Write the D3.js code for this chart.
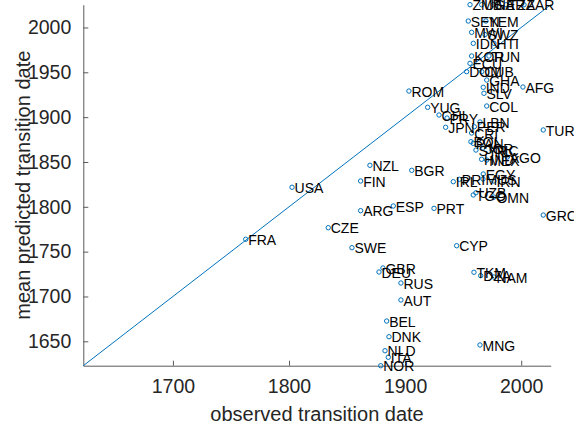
<!DOCTYPE html>
<html>
<head>
<meta charset="utf-8">
<script src="https://cdn.jsdelivr.net/npm/d3@7"></script>
<style>
  html, body { margin: 0; padding: 0; background: #fff; }
  svg { display: block; font-family: "Liberation Sans", Arial, Helvetica, sans-serif; }
</style>
</head>
<body>
<svg id="chart" width="574" height="428"></svg>
<script>
// Country codes, observed transition year and mean predicted transition year
const codes = [
  "FRA","USA","NZL","FIN","BGR","ARG","ESP","CZE","SWE","PRT","GRC","CYP",
  "TKM","DZA","NAM","MNG","BEL","DNK","NLD","ITA","NOR","AUT","RUS","GBR","DEU",
  "ROM","YUG","CHL","PRY","JPN","TUR","COL","SLV","AFG","IND",
  "PER","LBN","CRI","BOL","PAN","SYR","JOR","NIC","HND","MEX","AGO","EGY",
  "IRL","PRI","MUS","IRN","UZB","TGO","OMN",
  "ZMB","UGA","NER","TZA","ZAR","SEN","YEM","MWI","SWZ","IDN","HTI",
  "KOR","TUN","ECU","DOM","CUB","GHA"
];
const observed = [
  1762.7,1802.6,1869.7,1861.7,1905.7,1861.7,1889.8,1833.8,1854.2,1924.9,2019.0,1944.4,
  1959.3,1965.1,1976.5,1964.5,1884.1,1886.1,1882.7,1885.5,1879.0,1896.4,1896.4,1880.9,1877.5,
  1903.3,1919.4,1929.2,1936.1,1934.9,2019.0,1970.3,1967.9,2001.5,1967.3,
  1959.6,1964.5,1957.3,1956.7,1958.7,1961.0,1967.0,1974.8,1965.9,1970.3,1988.0,1967.3,
  1941.5,1946.7,1967.1,1976.5,1961.0,1958.7,1976.5,
  1955.9,1966.0,1976.0,1987.0,2002.4,1954.4,1969.6,1957.3,1968.8,1958.7,1976.5,
  1957.3,1972.2,1955.9,1953.0,1966.0,1970.3
];
const predicted = [
  1763.8,1821.8,1846.3,1828.8,1840.7,1795.7,1800.9,1776.7,1754.4,1798.3,1790.8,1756.6,
  1727.0,1723.2,1721.7,1645.9,1672.6,1655.1,1639.5,1632.2,1622.8,1696.1,1715.0,1731.8,1727.3,
  1929.1,1911.0,1902.4,1899.0,1888.7,1885.7,1912.4,1926.6,1933.6,1933.3,
  1889.3,1894.6,1882.3,1872.6,1870.8,1863.3,1865.6,1863.3,1853.0,1852.2,1855.5,1836.6,
  1828.0,1830.7,1831.0,1828.8,1815.7,1813.2,1810.9,
  2025.4,2025.4,2025.4,2025.4,2025.4,2007.2,2007.2,1994.6,1992.1,1982.3,1982.3,
  1968.2,1968.2,1960.0,1950.7,1950.7,1941.4
];
const xTicks = [1700, 1800, 1900, 2000];
const yTicks = [1650, 1700, 1750, 1800, 1850, 1900, 1950, 2000];

(function () {
  const points = codes.map((c, i) => ({ code: c, obs: observed[i], pred: predicted[i] }));

  // Both axes share the same tight limits so the y = x reference line runs corner to corner
  const lim = d3.extent(observed.concat(predicted));

  const plotLeft = 83.3, plotRight = 550.7, plotTop = 4.7, plotBottom = 365.7;
  const x = d3.scaleLinear().domain(lim).range([plotLeft, plotRight]);
  const y = d3.scaleLinear().domain(lim).range([plotBottom, plotTop]);

  const svg = d3.select("#chart");
  const blue = "#0072BD";
  const axisColor = "#5a5a5a";
  const tickText = "#262626";
  const yearFmt = d3.format("d");

  // x axis (ticks pointing inward)
  const xAxis = svg.append("g")
    .attr("transform", `translate(0,${plotBottom})`)
    .call(d3.axisBottom(x).tickValues(xTicks).tickFormat(yearFmt)
      .tickSizeInner(-5).tickSizeOuter(0).tickPadding(13));
  xAxis.select(".domain").attr("stroke", axisColor);
  xAxis.selectAll(".tick line").attr("stroke", axisColor);
  xAxis.selectAll(".tick text")
    .attr("fill", tickText)
    .attr("font-size", 19.5)
    .attr("font-family", "Liberation Sans, Arial, sans-serif");

  // y axis
  const yAxis = svg.append("g")
    .attr("transform", `translate(${plotLeft},0)`)
    .call(d3.axisLeft(y).tickValues(yTicks).tickFormat(yearFmt)
      .tickSizeInner(-5).tickSizeOuter(0).tickPadding(12));
  yAxis.select(".domain").attr("stroke", axisColor);
  yAxis.selectAll(".tick line").attr("stroke", axisColor);
  yAxis.selectAll(".tick text")
    .attr("fill", tickText)
    .attr("font-size", 19.5)
    .attr("font-family", "Liberation Sans, Arial, sans-serif");

  // y = x reference line
  svg.append("line")
    .attr("x1", x(lim[0])).attr("y1", y(lim[0]))
    .attr("x2", x(lim[1])).attr("y2", y(lim[1]))
    .attr("stroke", blue)
    .attr("stroke-width", 1);

  // country markers
  svg.append("g").selectAll("circle")
    .data(points)
    .join("circle")
    .attr("cx", d => x(d.obs))
    .attr("cy", d => y(d.pred))
    .attr("r", 2.2)
    .attr("fill", "none")
    .attr("stroke", blue)
    .attr("stroke-width", 1);

  // country labels
  svg.append("g").selectAll("text")
    .data(points)
    .join("text")
    .attr("x", d => x(d.obs) + 2.5)
    .attr("y", d => y(d.pred))
    .attr("dy", "0.4em")
    .attr("font-size", 14)
    .attr("fill", "#000")
    .text(d => d.code);

  // axis titles
  svg.append("text")
    .attr("x", (plotLeft + plotRight) / 2)
    .attr("y", 421)
    .attr("text-anchor", "middle")
    .attr("font-size", 20)
    .attr("fill", tickText)
    .text("observed transition date");

  svg.append("text")
    .attr("transform", `translate(30,${(plotTop + plotBottom) / 2}) rotate(-90)`)
    .attr("text-anchor", "middle")
    .attr("font-size", 20)
    .attr("fill", tickText)
    .text("mean predicted transition date");
})();
</script>
</body>
</html>
